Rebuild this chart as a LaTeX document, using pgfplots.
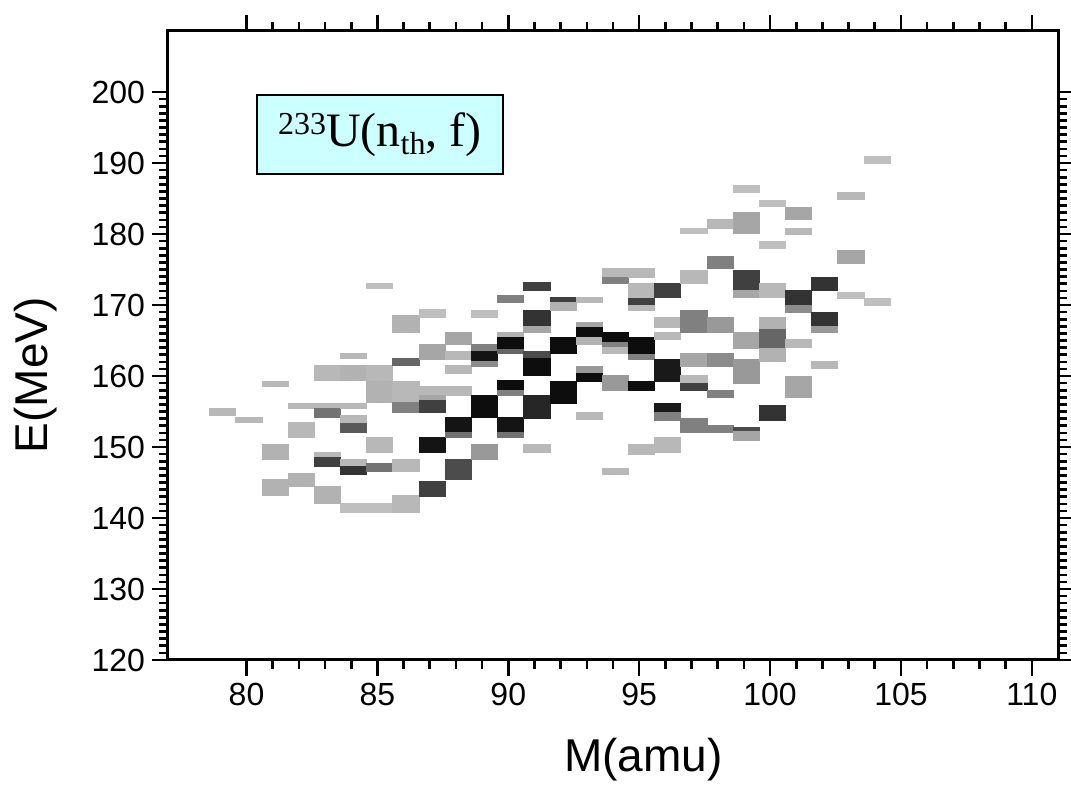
\documentclass[border=0pt]{standalone}
\usepackage{pgfplots}
\usepackage{pgfplotstable}
\pgfplotsset{compat=1.18}
\usepackage{fontspec}
\setmainfont{Liberation Sans}
\newfontfamily\seriffont{Liberation Serif}
\definecolor{boxc}{RGB}{204,255,255}

% M = mass bin, El/Eh = energy range of the cell, g = darkness (percent black)
\pgfplotstableread{
M El Eh g
79 154.5 155.4 28
80 153.4 154.2 28
81 158.6 159.3 28
81 148.2 150.4 30
81 143.2 145.5 30
82 155.4 156.2 28
82 151.3 153.4 28
82 144.4 146.3 30
83 159.4 161.5 28
83 155.4 156.2 28
83 154.2 155.4 55
83 148.5 149.3 28
83 147.2 148.5 75
83 142.1 144.4 30
84 162.5 163.2 28
84 159.4 161.5 30
84 155.4 156.2 28
84 153.3 154.4 28
84 152.1 153.3 65
84 147.3 148.2 28
84 146.2 147.3 80
84 140.8 142.1 25
85 172.4 173.1 25
85 159.4 161.5 28
85 156.3 159.2 30
85 149.2 151.3 28
85 146.5 147.7 55
85 140.8 142.1 25
86 166.2 168.6 30
86 161.5 162.5 60
86 156.3 159.2 28
86 154.9 156.3 50
86 146.5 148.2 28
86 140.8 143.2 28
87 168.3 169.4 25
87 162.3 164.4 35
87 157.3 158.5 28
87 156.6 157.3 35
87 154.9 156.6 75
87 149.2 151.4 92
87 143.0 145.1 75
88 164.4 166.2 35
88 162.3 163.4 28
88 160.4 161.5 28
88 157.3 158.5 28
88 152.1 154.2 92
88 151.3 152.1 55
88 145.4 148.2 70
89 168.3 169.3 25
89 163.4 164.4 50
89 162.0 163.4 92
89 161.3 162.0 45
89 154.2 157.3 95
89 148.2 150.3 40
90 170.3 171.4 50
90 165.4 166.2 30
90 163.7 165.4 95
90 163.2 163.7 60
90 158.0 159.4 95
90 157.3 158.0 50
90 152.1 154.2 92
90 151.3 152.1 55
91 172.1 173.2 75
91 167.0 169.3 80
91 166.2 167.0 35
91 162.5 163.4 70
91 160.1 162.5 95
91 154.1 157.3 85
91 149.3 150.3 28
92 170.3 171.1 75
92 169.3 170.3 30
92 163.2 165.4 95
92 156.2 159.2 95
93 170.3 171.1 28
93 166.8 167.5 35
93 165.4 166.8 95
93 164.4 165.4 30
93 160.4 161.3 40
93 159.2 160.4 95
93 153.9 154.9 28
94 173.9 175.2 28
94 173.1 173.9 50
94 164.8 166.2 95
94 164.1 164.8 50
94 163.2 164.1 28
94 158.0 160.1 40
94 146.1 147.0 28
95 173.9 175.2 28
95 171.0 173.1 28
95 170.0 171.0 75
95 169.3 170.0 28
95 163.0 165.4 95
95 162.3 163.0 50
95 158.0 159.2 95
95 149.0 150.3 28
96 171.1 173.1 75
96 166.9 168.3 28
96 165.1 166.2 28
96 159.2 162.3 90
96 154.9 156.2 90
96 153.8 154.9 50
96 149.2 151.3 28
97 180.1 180.8 25
97 173.1 174.9 28
97 166.1 169.3 50
97 161.3 163.2 35
97 159.0 160.1 28
97 158.0 159.0 75
97 152.0 154.1 50
98 180.8 182.0 28
98 175.2 176.8 50
98 166.1 168.2 40
98 161.3 163.2 45
98 157.0 158.0 50
98 152.0 153.1 50
99 185.9 186.9 25
99 180.1 183.0 35
99 172.1 174.9 75
99 171.1 172.1 35
99 163.9 166.1 35
99 159.0 162.3 40
99 152.2 152.8 70
99 151.0 152.2 35
100 183.9 184.8 25
100 178.0 178.9 25
100 171.1 173.1 28
100 166.5 168.2 30
100 163.9 166.5 60
100 162.0 163.9 30
100 153.8 155.9 80
101 182.0 183.8 35
101 179.9 180.8 28
101 170.0 172.1 80
101 169.0 170.0 45
101 164.1 165.1 28
101 157.0 159.9 35
102 172.1 173.9 80
102 167.0 169.0 80
102 166.1 167.0 40
102 161.1 162.0 28
103 184.9 185.8 28
103 175.9 177.7 35
103 171.0 171.8 25
104 190.0 191.0 25
104 170.0 171.0 25
}\cells

\begin{document}
\begin{tikzpicture}
\useasboundingbox (-84pt,-68pt) rectangle (451.5pt,330pt);
\begin{axis}[
  scale only axis, width=445pt, height=314.5pt,
  at={(0,0)}, anchor=south west,
  xmin=77, xmax=111, ymin=120, ymax=208.6,
  xtick={80,85,...,110}, minor x tick num=4,
  ytick={120,130,...,200}, minor y tick num=9,
  tick align=outside,
  major tick length=8pt, minor tick length=4.5pt,
  every tick/.style={black, line width=1.3pt},
  axis line style={line width=1.5pt},
  /pgf/number format/assume math mode=true,
  tick label style={font=\fontsize{16}{16}\selectfont},
  xlabel={M(amu)}, ylabel={E(MeV)},
  xlabel style={font=\fontsize{23}{23}\selectfont, at={(axis description cs:0.534,-0.159)}, anchor=center},
  ylabel style={font=\fontsize{23}{23}\selectfont, at={(axis description cs:-0.149,0.453)}, anchor=center},
]
\addplot[scatter, only marks, mark=*, mark size=0pt,
  point meta=explicit,
  visualization depends on={\thisrow{g} \as \cellg},
  visualization depends on={\thisrow{Eh}-\thisrow{El} \as \cellh},
  scatter/@pre marker code/.code={%
    \pgfmathsetmacro{\cellgi}{int(round(\cellg))}%
    \fill[black!\cellgi] (axis direction cs:-0.5,0) rectangle (axis direction cs:0.5,\cellh);
    \begin{scope}},
  scatter/@post marker code/.code={\end{scope}},
  mark options={draw=none, fill=none},
] table[x expr=\thisrow{M}+0.09, y=El, meta=g] {\cells};
\node[draw=black, line width=1pt, fill=boxc, minimum width=123pt, minimum height=39.5pt, inner sep=0pt]
  at (rel axis cs:0.238,0.835)
  {\seriffont\fontsize{24}{24}\selectfont\raisebox{6pt}{\fontsize{16}{16}\selectfont 233}U(n\raisebox{-4pt}{\fontsize{16}{16}\selectfont th}, f)};
\end{axis}
\end{tikzpicture}
\end{document}
